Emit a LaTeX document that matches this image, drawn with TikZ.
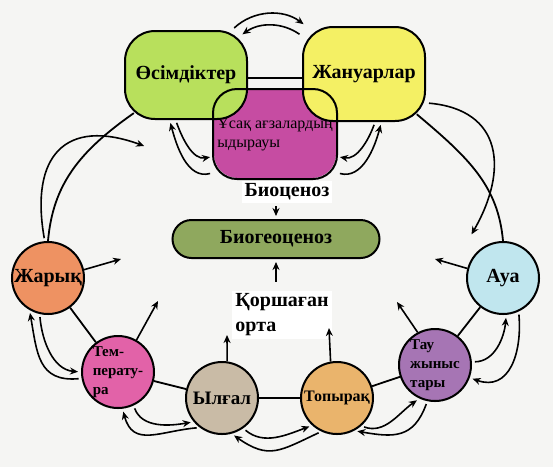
\documentclass[tikz,border=0pt]{standalone}
\usepackage{fontspec}
\setmainfont{Liberation Serif}
\usepackage{tikz}
\usetikzlibrary{arrows,arrows.meta,positioning}

\definecolor{osimcol}{HTML}{B8E05C}
\definecolor{zhancol}{HTML}{F4F064}
\definecolor{usakcol}{HTML}{C64CA2}
\definecolor{biogcol}{HTML}{8FA85E}
\definecolor{zharcol}{HTML}{EE9262}
\definecolor{tempcol}{HTML}{E262A8}
\definecolor{ylgcol}{HTML}{C9BBA6}
\definecolor{topcol}{HTML}{EAB46C}
\definecolor{taucol}{HTML}{A675B4}
\definecolor{auacol}{HTML}{C0E6EE}
\definecolor{bgcol}{HTML}{F5F5F3}

\begin{document}
\begin{tikzpicture}[x=1pt, y=-1pt, >={Stealth[length=8pt,width=7pt]},
    biobox/.style={draw, line width=2pt, rounded corners=30pt,
      minimum width=122pt, minimum height=88pt,
      font=\fontsize{20}{22}\selectfont\bfseries},
    factor/.style={circle, draw, line width=2pt, minimum size=72pt,
      inner sep=0pt, font=\fontsize{20}{22}\selectfont\bfseries},
    smallfactor/.style={factor, align=left,
      font=\fontsize{15}{19}\selectfont\bfseries},
    captext/.style={fill=white, inner sep=3pt,
      font=\fontsize{20}{25}\selectfont\bfseries},
    link/.style={line width=1.8pt},
    flow/.style={->, line width=1.6pt, shorten <=3pt, shorten >=3pt}]

    \fill[bgcol] (0,0) rectangle (553,467);
    \useasboundingbox (0,0) rectangle (553,467);

    % biocenosis boxes
    \node[biobox, draw=none, fill=usakcol, align=left, rounded corners=24pt,
      font=\fontsize{16}{19}\selectfont] (usak) at (275,134)
      {Ұсақ ағзалардың\\ыдырауы};
    \node[biobox, fill=osimcol] (osim) at (186,75) {Өсімдіктер};
    \node[biobox, fill=zhancol, minimum height=94pt] (zhan) at (364,74) {Жануарлар};
    \draw[line width=2pt, rounded corners=24pt]
      (usak.south west) rectangle (usak.north east);

    \draw[link] ([yshift=-3pt]osim.east) -- ([yshift=-4pt]zhan.west);

    \draw[flow] ([xshift=-16pt]osim.north east) to[bend left=40] ([xshift=4pt]zhan.north west);
    \draw[flow] ([yshift=-10pt]zhan.north west) to[bend right=35] ([xshift=-8pt,yshift=-6pt]osim.north east);

    \draw[flow] (osim.257) to[out=-70,in=190] (usak.200);
    \draw[flow] (usak.212) to[out=195,in=-75] (osim.250);
    \draw[flow] (zhan.283) to[out=-110,in=-10] (usak.340);
    \draw[flow] (usak.328) to[out=-15,in=-105] (zhan.290);

    % centre
    \node[captext] (bioc) at (287,192) {Биоценоз};
    \node[draw, line width=2pt, rounded corners=19pt, fill=biogcol,
      minimum width=207pt, minimum height=38pt,
      font=\fontsize{20}{22}\selectfont\bfseries] (biog) at (276,239) {Биогеоценоз};
    \node[captext, align=left] (korsh) at (282,315) {Қоршаған\\орта};

    \draw[flow] (bioc.south -| biog.north) -- (biog.north);
    \draw[flow] ([yshift=6pt]korsh.north -| biog.south) -- (biog.south);

    % environment factors
    \node[factor, fill=zharcol] (zharyk) at (48,278) {Жарық};
    \node[smallfactor, fill=tempcol] (temp) at (118,372) {Тем-\\перату-\\ра};
    \node[factor, fill=ylgcol, font=\fontsize{19}{22}\selectfont\bfseries] (ylgal) at (222,398) {Ылғал};
    \node[factor, fill=topcol, font=\fontsize{16}{22}\selectfont\bfseries] (topyrak) at (337,398) {Топырақ};
    \node[smallfactor, fill=taucol] (tau) at (435,365) {Тау\\жыныс\\тары};
    \node[factor, fill=auacol] (aua) at (503,278) {Ауа};

    \draw[link] (zharyk) -- (temp);
    \draw[link] (temp) -- (ylgal);
    \draw[link] (ylgal) -- (topyrak);
    \draw[link] (topyrak) -- (tau);
    \draw[link] (tau) -- (aua);

    \draw[link, shorten <=-12pt] (osim.south west) to[out=215,in=85] (zharyk.north);
    \draw[link, shorten <=-12pt] (zhan.south east) to[out=-40,in=95] (aua.north);

    \coordinate (osim_in) at (147,147);
    \coordinate (aua_in) at (470,237);
    \draw[flow] (zharyk.95) to[out=100,in=160,looseness=1.6] (osim_in);
    \draw[flow] (zhan.335) to[out=-5,in=60,looseness=1.4] (aua_in);

    % arrows into the centre
    \coordinate (zharyk_tip) at (121,259);
    \coordinate (temp_tip) at (158,301);
    \coordinate (ylgal_tip) at (227,335);
    \coordinate (topyrak_tip) at (329,328);
    \coordinate (tau_tip) at (397,302);
    \coordinate (aua_tip) at (435,259);
    \draw[->, line width=1.6pt] (zharyk.13) -- (zharyk_tip);
    \draw[->, line width=1.6pt] (temp.60) -- (temp_tip);
    \draw[->, line width=1.6pt] (ylgal.82) -- (ylgal_tip);
    \draw[->, line width=1.6pt] (topyrak.100) -- (topyrak_tip);
    \draw[->, line width=1.6pt] (tau.118) -- (tau_tip);
    \draw[->, line width=1.6pt] (aua.165) -- (aua_tip);

    % exchange between neighbours
    \draw[flow] (zharyk.257) to[out=-85,in=175] (temp.180);
    \draw[flow] (temp.190) to[out=185,in=-80,looseness=1.3] (zharyk.240);
    \draw[flow] (temp.295) to[out=-70,in=190] (ylgal.220);
    \draw[flow] (ylgal.233) to[out=185,in=-75,looseness=1.3] (temp.277);
    \draw[flow] (ylgal.305) to[out=-40,in=200] (topyrak.228);
    \draw[flow] (topyrak.245) to[out=205,in=-35,looseness=1.3] (ylgal.285);
    \draw[flow] (topyrak.311) to[out=-20,in=215] (tau.245);
    \draw[flow] (tau.258) to[out=250,in=-10,looseness=1.3] (topyrak.298);
    \draw[flow] (tau.5) to[out=0,in=-95] (aua.275);
    \draw[flow] (aua.295) to[out=-85,in=-20,looseness=1.3] (tau.340);

  \end{tikzpicture}
\end{document}
